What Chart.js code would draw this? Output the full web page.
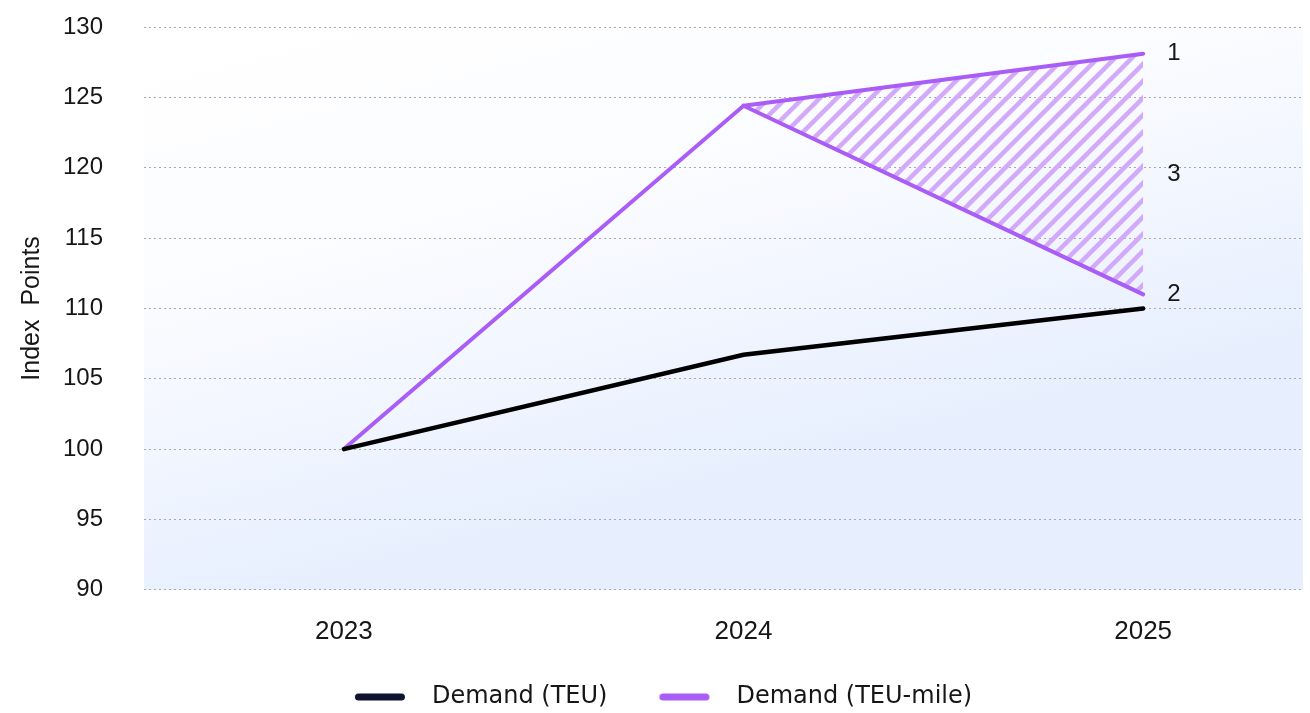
<!DOCTYPE html>
<html>
<head>
<meta charset="utf-8">
<script src="https://cdn.jsdelivr.net/npm/chart.js@4.4.1/dist/chart.umd.min.js"></script>
<style>
  html, body { margin: 0; padding: 0; background: #ffffff; }
  #wrap { width: 1310px; height: 713px; position: relative; }
</style>
</head>
<body>
<div id="wrap"><canvas id="c" width="1310" height="713"></canvas></div>
<script>
// ---- data ----
const years = [2023, 2024, 2025];
const demandTEU = [100, 106.7, 110.0];
const demandTEUMileLow = [100, 124.4, 111.0];
const demandTEUMileHigh = [null, 124.4, 128.1];
const yTicks = [90, 95, 100, 105, 110, 115, 120, 125, 130];
const endLabels = ['1', '2', '3'];
const endLabelValues = [128.1, 111.0, 119.55];
const seriesNames = ['Demand (TEU)', 'Demand (TEU-mile)'];

const AXFONT = "'Liberation Sans', Arial, sans-serif";
const LGFONT = "'DejaVu Sans', sans-serif";
const PURPLE = '#a95cf6';
const NAVY = '#0e1330';
const TXT = '#161616';

function toPts(xs, ys) { return xs.map((x, i) => ({ x: x, y: ys[i] })); }

// hatch pattern
function makeHatch() {
  const p = 17;
  const c = document.createElement('canvas');
  c.width = p; c.height = p;
  const g = c.getContext('2d');
  g.strokeStyle = '#d3aafa';
  g.lineWidth = 4.5;
  g.lineCap = 'butt';
  for (const k of [-p, 0, p]) {
    g.beginPath();
    g.moveTo(k - 2, p + 2);
    g.lineTo(k + p + 2, -2);
    g.stroke();
  }
  return document.createElement('canvas').getContext('2d').createPattern(c, 'repeat');
}
const hatch = makeHatch();

// legend symbol images
function legendSymbol(color) {
  const c = document.createElement('canvas');
  c.width = 79; c.height = 12;
  const g = c.getContext('2d');
  g.strokeStyle = color;
  g.lineWidth = 7;
  g.lineCap = 'round';
  g.beginPath();
  g.moveTo(14 + 3.5, 6);
  g.lineTo(14 + 50 - 3.5, 6);
  g.stroke();
  return c;
}
const legendImgs = [legendSymbol(NAVY), legendSymbol(PURPLE)];

const bgPlugin = {
  id: 'bg',
  beforeDraw(chart) {
    const a = chart.chartArea, ctx = chart.ctx;
    const g = ctx.createLinearGradient(a.left, a.top, a.left + (a.right - a.left) * 0.12, a.bottom);
    g.addColorStop(0, '#ffffff');
    g.addColorStop(0.45, '#fbfcff');
    g.addColorStop(1, '#e7effe');
    ctx.save();
    ctx.fillStyle = g;
    ctx.fillRect(a.left, a.top, a.right - a.left, a.bottom - a.top);
    ctx.restore();
  }
};

const labelPlugin = {
  id: 'endLabels',
  afterDatasetsDraw(chart) {
    const ctx = chart.ctx, xs = chart.scales.x, ys = chart.scales.y;
    ctx.save();
    ctx.font = "24px " + AXFONT;
    ctx.fillStyle = TXT;
    ctx.textAlign = 'left';
    ctx.textBaseline = 'middle';
    endLabels.forEach((t, i) => {
      ctx.fillText(t, xs.getPixelForValue(years[2]) + 24, ys.getPixelForValue(endLabelValues[i]));
    });
    ctx.restore();
  }
};

new Chart(document.getElementById('c'), {
  type: 'line',
  data: {
    datasets: [
      {
        label: seriesNames[0],
        data: toPts(years, demandTEU),
        borderColor: '#000000',
        borderWidth: 4.5,
        borderCapStyle: 'round',
        pointRadius: 0,
        fill: false,
        order: 0
      },
      {
        label: seriesNames[1],
        data: toPts(years, demandTEUMileLow),
        borderColor: PURPLE,
        borderWidth: 4,
        borderCapStyle: 'round',
        pointRadius: 0,
        fill: false,
        order: 1
      },
      {
        label: '_high',
        data: toPts(years, demandTEUMileHigh),
        borderColor: PURPLE,
        borderWidth: 4,
        borderCapStyle: 'round',
        pointRadius: 0,
        backgroundColor: hatch,
        fill: { target: 1 },
        order: 1
      }
    ]
  },
  options: {
    responsive: false,
    animation: false,
    layout: { padding: { top: 27, right: 7, left: 10, bottom: -6 } },
    plugins: {
      tooltip: { enabled: false },
      legend: {
        position: 'bottom',
        labels: {
          usePointStyle: true,
          pointStyleWidth: 79,
          boxHeight: 24,
          padding: 38,
          color: TXT,
          font: { family: LGFONT, size: 24 },
          filter: (item) => item.text !== '_high',
          generateLabels: (chart) => {
            const items = Chart.defaults.plugins.legend.labels.generateLabels(chart);
            return items.map((it, i) => Object.assign(it, {
              pointStyle: legendImgs[Math.min(i, 1)]
            }));
          }
        }
      }
    },
    scales: {
      x: {
        type: 'linear',
        min: 2022.5,
        max: 2025.4,
        afterBuildTicks: (s) => { s.ticks = years.map(v => ({ value: v })); },
        grid: { display: true, drawOnChartArea: false, drawTicks: true, tickLength: 26, tickColor: 'rgba(0,0,0,0)' },
        border: { display: false },
        ticks: {
          color: TXT,
          font: { family: AXFONT, size: 26 },
          padding: 0,
          callback: (v) => String(v)
        }
      },
      y: {
        min: 90,
        max: 130,
        afterBuildTicks: (s) => { s.ticks = yTicks.map(v => ({ value: v })); },
        grid: { color: '#a8a8a8', lineWidth: 1, drawTicks: true, tickLength: 33, tickColor: 'rgba(0,0,0,0)' },
        border: { display: false, dash: [2, 3] },
        ticks: {
          color: TXT,
          font: { family: AXFONT, size: 24 },
          padding: 8
        },
        title: {
          display: true,
          text: 'Index  Points',
          color: TXT,
          font: { family: AXFONT, size: 25 },
          padding: { top: 7, bottom: 8 }
        }
      }
    }
  },
  plugins: [bgPlugin, labelPlugin]
});
</script>
</body>
</html>
